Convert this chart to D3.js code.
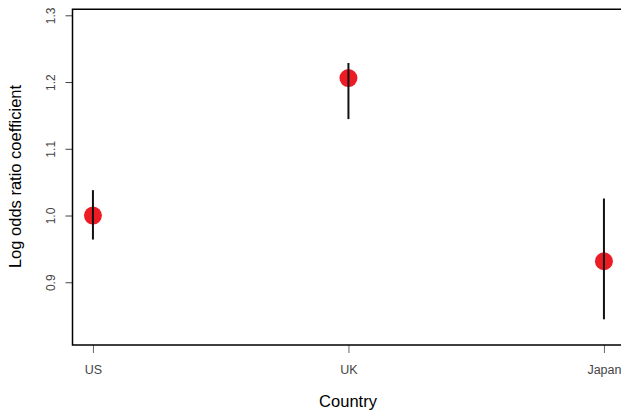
<!DOCTYPE html>
<html>
<head>
<meta charset="utf-8">
<script src="https://cdn.jsdelivr.net/npm/d3@7"></script>
<style>
  body { margin: 0; background: #fff; }
  text { font-family: "Liberation Sans", Arial, sans-serif; }
</style>
</head>
<body>
<svg id="chart"></svg>
<script>
// data
const countries = ["US", "UK", "Japan"]
const coef = [1.0, 1.206, 0.9315]
const lower = [0.964, 1.1445, 0.8445]
const upper = [1.038, 1.2285, 1.0255]
const yTicks = [0.9, 1.0, 1.1, 1.2, 1.3]

const W = 621, H = 412
const svg = d3.select("svg#chart")
              .attr("width", W)
              .attr("height", H)

// plot region (right side runs off the page like the original)
const plotLeft = 72.5, plotTop = 9.3, plotBottom = 345
const x = d3.scaleLinear().domain([0.92, 3.08]).range([plotLeft, plotLeft + 2.16 * 255.5])
const y = d3.scaleLinear().domain([0.806, 1.309]).range([plotBottom, plotTop])

//y axis
const yAxis = svg.append("g")
     .attr("transform", `translate(${plotLeft},0)`)
     .call(d3.axisLeft(y).tickValues(yTicks).tickFormat(d3.format(".1f")).tickSize(7).tickPadding(0))
yAxis.select(".domain").remove()
yAxis.selectAll(".tick line").attr("stroke", "#444")
yAxis.selectAll(".tick text")
     .attr("transform", "rotate(-90)")
     .attr("x", 0)
     .attr("y", -17.5)
     .attr("dy", 0)
     .attr("text-anchor", "middle")
     .attr("fill", "#444")
     .style("font-size", "12px")

//x axis
const xAxis = svg.append("g")
     .attr("transform", `translate(0,${plotBottom})`)
     .call(d3.axisBottom(x).tickValues([1, 2, 3]).tickFormat((d, i) => countries[i]).tickSize(8).tickPadding(12))
xAxis.select(".domain").remove()
xAxis.selectAll(".tick line").attr("stroke", "#666")
xAxis.selectAll(".tick text")
     .attr("fill", "#444")
     .style("font-size", "12.5px")

//box
svg.append("path")
   .attr("d", `M${W + 10},${plotTop}H${plotLeft}V${plotBottom}H${W + 10}`)
   .attr("fill", "none")
   .attr("stroke", "black")
   .attr("stroke-width", 1.5)

//points
svg.selectAll("circle.pt")
   .data(coef)
   .join("circle")
   .attr("class", "pt")
   .attr("cx", (d, i) => x(i + 1))
   .attr("cy", d => y(d))
   .attr("r", 9)
   .attr("fill", "#ec1c24")

//error bars, on top of the points
svg.selectAll("line.err")
   .data(countries)
   .join("line")
   .attr("class", "err")
   .attr("x1", (d, i) => x(i + 1))
   .attr("x2", (d, i) => x(i + 1))
   .attr("y1", (d, i) => y(lower[i]))
   .attr("y2", (d, i) => y(upper[i]))
   .attr("stroke", "#111")
   .attr("stroke-width", 2)

//axis titles
svg.append("text")
   .attr("x", 348)
   .attr("y", 406.5)
   .attr("text-anchor", "middle")
   .style("font-size", "16.5px")
   .text("Country")

svg.append("text")
   .attr("transform", `translate(21,176.5) rotate(-90)`)
   .attr("text-anchor", "middle")
   .style("font-size", "16.5px")
   .text("Log odds ratio coefficient")
</script>
</body>
</html>
